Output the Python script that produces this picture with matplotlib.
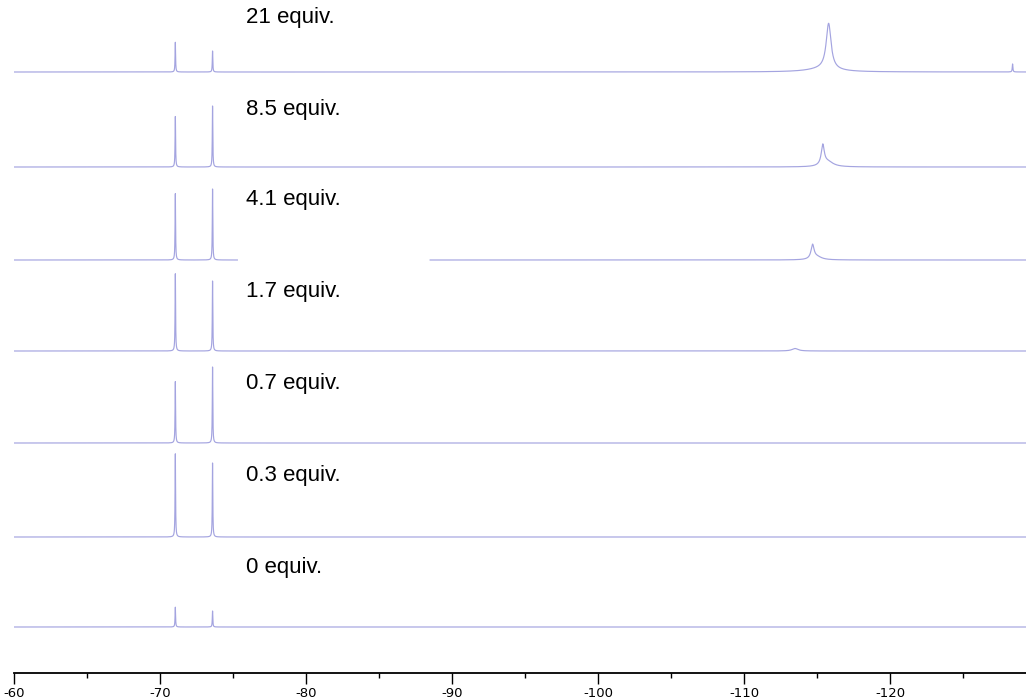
#---------------------------------------------
#imports
#---------------------------------------------
import numpy as np
import matplotlib
matplotlib.use("Agg")
import matplotlib.pyplot as plt
from matplotlib.ticker import MultipleLocator

#---------------------------------------------
#data (19F stack, ppm)
#---------------------------------------------
labels = ["21 equiv.", "8.5 equiv.", "4.1 equiv.", "1.7 equiv.", "0.7 equiv.", "0.3 equiv.", "0 equiv."]

#peak lists for every trace: centre (ppm), height, fwhm (ppm)
peak_centers = [[-71.05, -73.6, -115.8, -115.4, -128.4],
                [-71.05, -73.6, -115.4, -115.75],
                [-71.05, -73.6, -114.7, -115.0],
                [-71.05, -73.6, -113.5],
                [-71.05, -73.6],
                [-71.05, -73.6],
                [-71.05, -73.6]]
peak_heights = [[30, 21, 46, 3, 8],
                [51, 61, 20, 5],
                [67, 71, 14, 3],
                [78, 70, 2.5],
                [62, 76],
                [84, 74],
                [20, 16]]
peak_widths = [[0.04, 0.04, 0.4, 2.5, 0.05],
               [0.04, 0.04, 0.25, 0.9],
               [0.04, 0.04, 0.25, 0.8],
               [0.04, 0.04, 0.5],
               [0.04, 0.04],
               [0.04, 0.04],
               [0.04, 0.04]]

#region not recorded in the 4.1 equiv. trace
gap_trace = 2
gap_ppm = (-75.3, -88.5)

#---------------------------------------------
#layout
#---------------------------------------------
W, H = 1026, 700
axis_row = 673          #pixel row of the ppm axis
baselines = [72, 167, 260, 351, 443, 537, 627]
label_rows = [18, 109, 200, 292, 384, 476, 568]
label_ppm = -75.9
xlim = (-60, -129.32)
line_color = "#a4a4e0"

plt.rcParams['axes.unicode_minus'] = False
plt.rcParams['font.family'] = ['Liberation Sans', 'DejaVu Sans']

fig = plt.figure(figsize=(W / 100, H / 100), dpi=100)
ax = fig.add_axes([14 / W, (H - axis_row) / H, 1 - 14 / W, axis_row / H])

ppm = np.arange(-60.0, -129.4, -0.004)

def lorentz(x, c, h, w):
	g = w / 2.0
	return h * g**2 / ((x - c)**2 + g**2)

for i in range(len(labels)):
	y = np.zeros_like(ppm)
	for c, h, w in zip(peak_centers[i], peak_heights[i], peak_widths[i]):
		y += lorentz(ppm, c, h, w)
	trace = baselines[i] - y
	if i == gap_trace:
		trace[(ppm < gap_ppm[0]) & (ppm > gap_ppm[1])] = np.nan
	ax.plot(ppm, trace, color=line_color, lw=0.85)
	ax.text(label_ppm, label_rows[i], labels[i], fontsize=16, va='center', ha='left')

ax.set_xlim(*xlim)
ax.set_ylim(axis_row, 0)

for s in ['top', 'left', 'right']:
	ax.spines[s].set_visible(False)
ax.spines['bottom'].set_linewidth(1.3)
ax.set_yticks([])
ax.xaxis.set_major_locator(MultipleLocator(10))
ax.xaxis.set_minor_locator(MultipleLocator(5))
ax.tick_params(axis='x', which='major', length=8, width=1, labelsize=9.5, pad=2)
ax.tick_params(axis='x', which='minor', length=3.5, width=1)
for t in ax.get_xticklabels():
	t.set_family('DejaVu Sans')
ax.patch.set_alpha(0)

fig.savefig("out.png", dpi=100)
